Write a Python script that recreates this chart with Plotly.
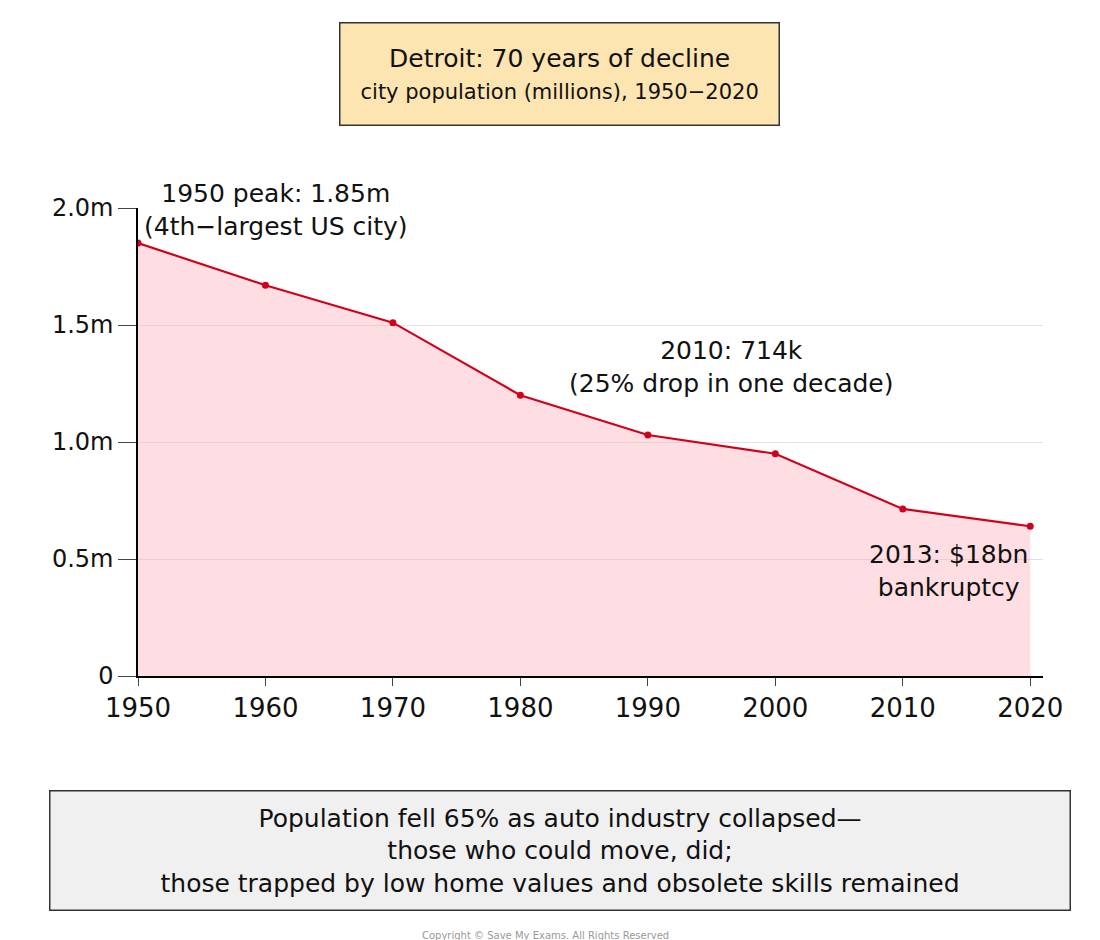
import plotly.graph_objects as go

years = [1950, 1960, 1970, 1980, 1990, 2000, 2010, 2020]
population_m = [1.85, 1.67, 1.51, 1.20, 1.03, 0.95, 0.714, 0.64]
y_ticks = [0, 0.5, 1.0, 1.5, 2.0]
y_labels = ["0", "0.5m", "1.0m", "1.5m", "2.0m"]

FONT = "DejaVu Sans"

fig = go.Figure(go.Scatter(
    x=years, y=population_m, mode="lines+markers",
    line=dict(color="#d0021b", width=2.2),
    marker=dict(size=7, color="#d0021b"),
    fill="tozeroy", fillcolor="rgba(255,182,193,0.45)",
    hoverinfo="skip",
))

fig.update_layout(
    width=1100, height=940, paper_bgcolor="white", plot_bgcolor="white",
    margin=dict(l=130, r=65, t=200, b=272),
    showlegend=False,
    font=dict(family=FONT, size=24, color="#111"),
    xaxis=dict(range=[1950, 2021], tickvals=years, ticks="outside", ticklen=8,
               showline=True, linecolor="black", linewidth=1.5, showgrid=False,
               tickfont=dict(size=26)),
    yaxis=dict(range=[0, 2.0], tickvals=y_ticks, ticktext=y_labels, ticks="outside",
               ticklen=18, showline=True, linecolor="black", linewidth=1.5,
               gridcolor="#e0e0e0", zeroline=False, tickfont=dict(size=24)),
)

notes = [
    (1950, 1.85, "1950 peak: 1.85m<br>(4th−largest US city)", "left", "bottom", 4),
    (1995, 1.18, "2010: 714k<br>(25% drop in one decade)", "center", "bottom", 20),
    (2020, 0.45, "2013: $18bn<br>bankruptcy", "right", "middle", 0),
]
for x, y, t, xa, ya, xs in notes:
    fig.add_annotation(x=x, y=y, text=t, showarrow=False, xanchor=xa, yanchor=ya,
                       xshift=xs, font=dict(size=25))

fig.add_annotation(xref="paper", yref="paper", x=0.466, y=1.286, yanchor="middle",
                   text="Detroit: 70 years of decline<br><span style='font-size:21px'>city population (millions), 1950−2020</span>",
                   showarrow=False, bgcolor="#fde5b1", bordercolor="#333",
                   borderwidth=1.5, borderpad=20, font=dict(size=25))
fig.add_annotation(xref="paper", yref="paper", x=0.466, y=-0.372, yanchor="middle",
                   text="Population fell 65% as auto industry collapsed—<br>those who could move, did;<br>those trapped by low home values and obsolete skills remained",
                   showarrow=False, bgcolor="#f0f0f0", bordercolor="#333",
                   borderwidth=1.5, borderpad=12, font=dict(size=25), width=995)
fig.add_annotation(xref="paper", yref="paper", x=0.45, y=-0.555, yanchor="middle",
                   text="Copyright © Save My Exams. All Rights Reserved",
                   showarrow=False, font=dict(size=10, color="#999"))

fig.write_html("out.html")
